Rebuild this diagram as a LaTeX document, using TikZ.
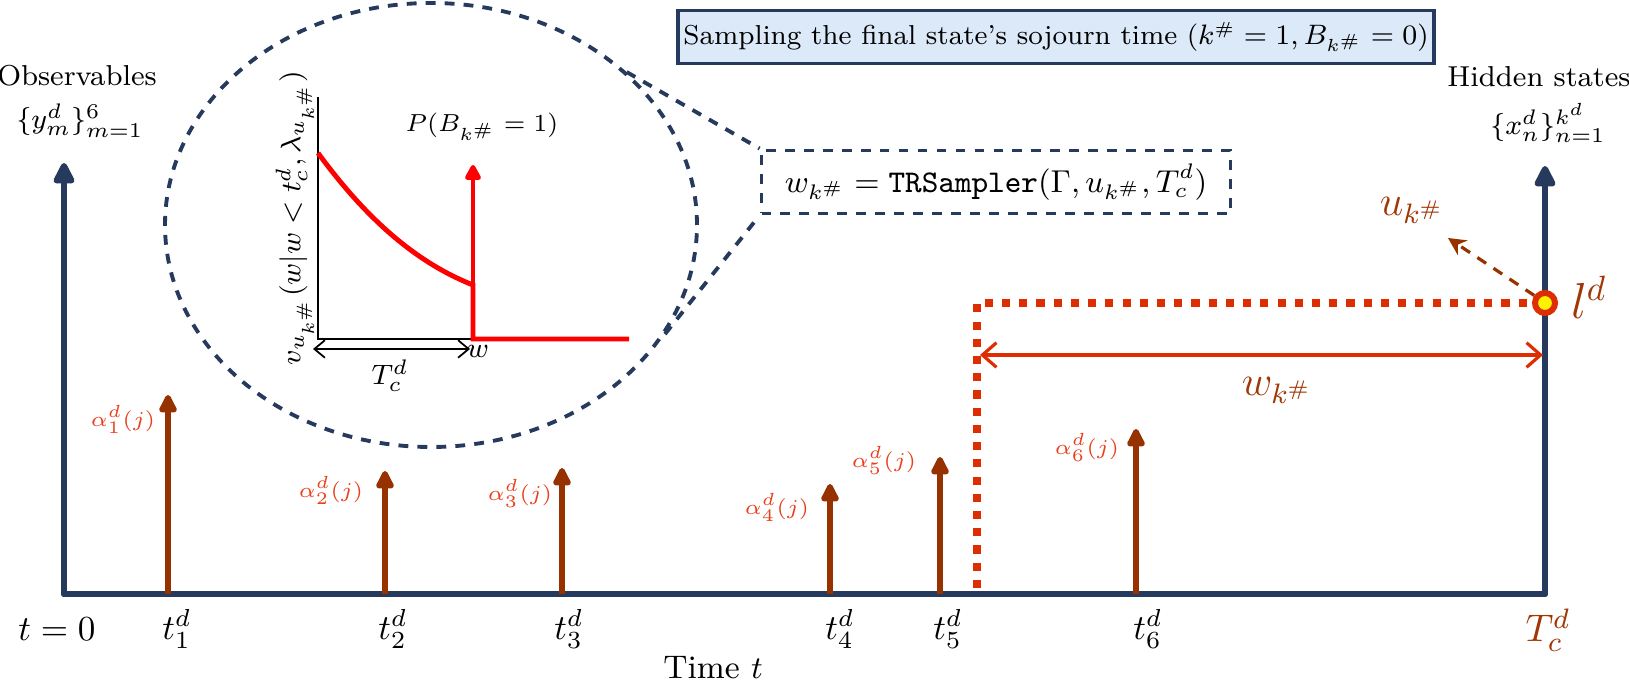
\documentclass[tikz,border=0pt]{standalone}
\usepackage{amsmath}
\usepackage{xcolor}
\usepackage{tikz}
\usetikzlibrary{arrows.meta,shapes.geometric}
\definecolor{axisblue}{RGB}{38,58,94}
\definecolor{obsbrown}{RGB}{150,50,0}
\definecolor{labbrown}{RGB}{160,55,5}
\definecolor{alphared}{RGB}{232,64,28}
\definecolor{cutred}{RGB}{222,45,0}
\definecolor{boxblue}{RGB}{220,233,248}
\newcommand{\ks}{k^{\#}}

\begin{document}
\begin{tikzpicture}[x=0.1mm,y=0.1mm,
  every node/.style={font=\normalsize},
  axis/.style={draw=axisblue,line width=1.7pt,line cap=round,-{Triangle[length=7pt,width=6.5pt,round]}},
  obs/.style={draw=obsbrown,line width=1.7pt,-{Triangle[length=6pt,width=5.5pt,round]}},
  alab/.style={text=alphared,font=\fontsize{6.3}{8}\selectfont},
  brlab/.style={text=labbrown},
  zoomline/.style={draw=axisblue,line width=1.1pt,dash pattern=on 2.8pt off 2.6pt},
  cut/.style={draw=cutred,line width=2.3pt,dash pattern=on 2.3pt off 2.6pt},
  dens/.style={draw=red,line width=1.4pt},
  lab/.style={font=\fontsize{8.2}{10}\selectfont}
]
  \useasboundingbox (0,0) rectangle (1629,684);

  \coordinate (o) at (64,90);
  \coordinate (T) at (1545,90);
  \coordinate (otop) at (64,521);
  \coordinate (Ttop) at (1545,518);
  \draw[axis] (o) -- (otop);
  \draw[axis] (T) -- (Ttop);
  \draw[axisblue,line width=1.7pt,line cap=round] (o) -- (T);

  \node[lab] (obsname) at (77,608) {Observables};
  \node[lab] (obsset) at (80,563) {$\{y_m^d\}_{m=1}^{6}$};
  \node[lab] (hidname) at (1539,607) {Hidden states};
  \node[lab] (hidset) at (1548,561) {$\{x_n^d\}_{n=1}^{k^d}$};

  \node (t0) at (57,55) {$t=0$};
  \node[brlab,font=\fontsize{11}{13}\selectfont] (Tc) at (1548,54) {$T_c^d$};
  \node[font=\fontsize{9.3}{11}\selectfont] (time) at (713,16) {Time $t$};

  \foreach \i/\x/\tx/\h/\ax/\ay in {1/168/177/289/123/265, 2/385/393/213/331/194,
      3/562/569/216/520/191, 4/830/840/200/777/177, 5/940/948/227/884/224,
      6/1136/1148/255/1087/237}{
    \coordinate (s\i) at (\x,90);
    \coordinate (e\i) at (\x,\h);
    \draw[obs] (s\i) -- (e\i);
    \node[alab] (a\i) at (\ax,\ay) {$\alpha_{\i}^{d}(j)$};
    \node (t\i) at (\tx,55) {$t_{\i}^{d}$};
  }

  \coordinate (cb) at (977,96);
  \coordinate (cc) at (977,381);
  \node[circle,draw=cutred,fill=yellow,line width=1.7pt,minimum size=2mm,inner sep=0pt] (ld) at (1545,381) {};
  \draw[cut] (cb) -- (cc) -- (ld.west);
  \node[brlab,font=\Large] (lname) at (1589,387) {$l^{d}$};
  \coordinate (ut) at (1448,446);
  \draw[obsbrown,line width=0.9pt,dash pattern=on 3pt off 2.5pt,-{Stealth[length=5pt,width=5pt]}] (ld.145) -- (ut);
  \node[brlab,font=\large] (uname) at (1412,474) {$u_{\ks}$};

  \coordinate (wl) at (980,329);
  \coordinate (wr) at (1543,329);
  \draw[cutred,line width=0.9pt,{Straight Barb[length=4pt,width=7pt]}-{Straight Barb[length=4pt,width=7pt]}] (wl) -- (wr);
  \node[brlab,font=\large] (wname) at (1277,294) {$w_{\ks}$};

  \node[draw=axisblue,line width=1pt,fill=boxblue,minimum width=7.56cm,minimum height=5mm,inner xsep=1pt,
    font=\fontsize{7.8}{10}\selectfont] (title) at (1056,647)
    {Sampling the final state's sojourn time ($\ks=1, B_{\ks}=0$)};

  \node[ellipse,zoomline,minimum width=5.32cm,minimum height=4.44cm,inner sep=0pt] (zoom) at (431,459) {};
  \node[zoomline,minimum width=4.69cm,minimum height=6.3mm,inner xsep=1pt,font=\fontsize{9}{11}\selectfont] (samp) at (996,502)
    {$w_{\ks}=\mathtt{TRSampler}(\Gamma,u_{\ks},T_c^d)$};
  \draw[zoomline] (zoom.38) -- (samp.north west);
  \draw[zoomline] (zoom.-25) -- (samp.south west);

  \coordinate (iy) at (318,587);
  \coordinate (io) at (318,345);
  \coordinate (iw) at (473,345);
  \coordinate (iend) at (629,345);
  \coordinate (c0) at (318,531);
  \coordinate (c1) at (473,399);
  \coordinate (ptop) at (473,519);
  \draw[black,line width=0.4pt] (iy) -- (io) -- (iw);
  \draw[dens] (c0) .. controls (370,460) and (420,420) .. (c1) -- (iw) -- (iend);
  \draw[dens,-{Triangle[length=5pt,width=5pt,round]}] (iw) -- (ptop);
  \node[font=\fontsize{7.2}{9}\selectfont] (pname) at (482,557) {$P(B_{\ks}=1)$};
  \node[font=\fontsize{7.9}{9}\selectfont,rotate=90] (vname) at (295,466) {$v_{u_{\ks}}(w|w<t_c^d,\lambda_{u_{\ks}})$};
  \coordinate (tl) at (313,335);
  \coordinate (tr) at (470,335);
  \draw[black,line width=0.5pt,{Straight Barb[length=3pt,width=5pt]}-{Straight Barb[length=3pt,width=5pt]}] (tl) -- (tr);
  \node[lab] (wax) at (478,333) {$w$};
  \node[lab] (tcname) at (390,308) {$T_c^d$};
\end{tikzpicture}
\end{document}
